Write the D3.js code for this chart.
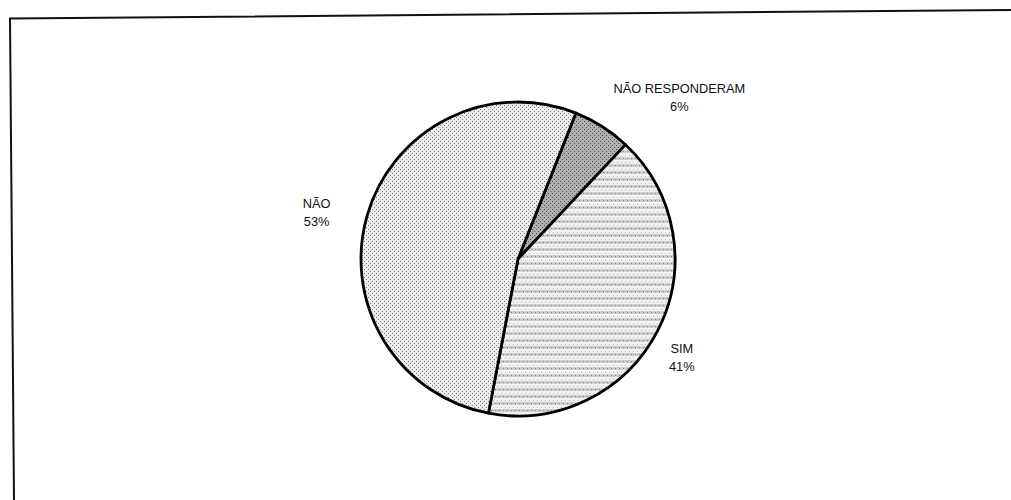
<!DOCTYPE html>
<html>
<head>
<meta charset="utf-8">
<script src="https://cdn.jsdelivr.net/npm/d3@7"></script>
<style>
  html, body { margin: 0; background: #fff; overflow: hidden; }
  svg { display: block; }
  text { font-family: "Liberation Sans", Arial, sans-serif; font-size: 12.8px; fill: #111; }
</style>
</head>
<body>
<script>
// survey answers, clockwise starting from the small slice
var categories = ["NÃO RESPONDERAM", "SIM", "NÃO"];
var values     = [6, 41, 53];
var pctLabels  = ["6%", "41%", "53%"];

var width = 1011, height = 500;
var cx = 518, cy = 259, radius = 157;
var startRad = 0.378; // first slice begins a bit past 12 o'clock

var svg = d3.select("body").append("svg")
  .attr("width", width)
  .attr("height", height);

// frame: only top and left edges show in the scan, slightly skewed
svg.append("path")
  .attr("d", "M14," + height + " L10,18.5 L" + width + ",10")
  .attr("fill", "none")
  .attr("stroke", "#111")
  .attr("stroke-width", 2);

// stipple textures
var defs = svg.append("defs");

function dotPattern(id, base, dot, step) {
  var p = defs.append("pattern")
    .attr("id", id)
    .attr("patternUnits", "userSpaceOnUse")
    .attr("width", step * 2).attr("height", step * 2);
  p.append("rect").attr("width", step * 2).attr("height", step * 2).attr("fill", base);
  p.append("rect").attr("x", 0).attr("y", 0).attr("width", 1).attr("height", 1).attr("fill", dot);
  p.append("rect").attr("x", step).attr("y", step).attr("width", 1).attr("height", 1).attr("fill", dot);
  return "url(#" + id + ")";
}

var fillNao = dotPattern("pNao", "#ececec", "#808080", 2);
var fillNr  = dotPattern("pNr", "#b0b0b0", "#505050", 2);

// horizontal stripes for SIM
var ps = defs.append("pattern")
  .attr("id", "pSim")
  .attr("patternUnits", "userSpaceOnUse")
  .attr("width", 4).attr("height", 7);
ps.append("rect").attr("width", 4).attr("height", 7).attr("fill", "#f2f2f2");
ps.append("rect").attr("y", 3).attr("width", 4).attr("height", 3).attr("fill", "#cdcdcd");
ps.append("rect").attr("x", 1).attr("y", 4).attr("width", 1).attr("height", 1).attr("fill", "#888");
ps.append("rect").attr("x", 3).attr("y", 1).attr("width", 1).attr("height", 1).attr("fill", "#bbb");

var fills = d3.scaleOrdinal()
  .domain(categories)
  .range([fillNr, "url(#pSim)", fillNao]);

var pie = d3.pie()
  .sort(null)
  .startAngle(startRad)
  .endAngle(startRad + 2 * Math.PI)
  .value(function (d) { return d.value; });

var data = categories.map(function (c, i) {
  return { name: c, value: values[i], label: pctLabels[i] };
});

var arc = d3.arc().innerRadius(0).outerRadius(radius);
var labelArc = d3.arc().innerRadius(radius * 1.25).outerRadius(radius * 1.25);

var g = svg.append("g")
  .attr("transform", "translate(" + cx + "," + cy + ")");

var arcs = pie(data);

g.selectAll("path.slice")
  .data(arcs)
  .enter().append("path")
  .attr("class", "slice")
  .attr("d", arc)
  .attr("fill", function (d) { return fills(d.data.name); })
  .attr("stroke", "#000")
  .attr("stroke-width", 2.8)
  .attr("stroke-linejoin", "round");

// label placement nudges, Excel-style "best fit"
var nudge = { "NÃO RESPONDERAM": [56, 4], "SIM": [-11, 9], "NÃO": [-13, 8] };

var labels = g.selectAll("text.lbl")
  .data(arcs)
  .enter().append("text")
  .attr("class", "lbl")
  .attr("text-anchor", "middle")
  .attr("transform", function (d) {
    var c = labelArc.centroid(d), n = nudge[d.data.name];
    return "translate(" + (c[0] + n[0]) + "," + (c[1] + n[1]) + ")";
  });

labels.append("tspan").attr("x", 0).attr("y", -4).text(function (d) { return d.data.name; });
labels.append("tspan").attr("x", 0).attr("y", 14).text(function (d) { return d.data.label; });
</script>
</body>
</html>
